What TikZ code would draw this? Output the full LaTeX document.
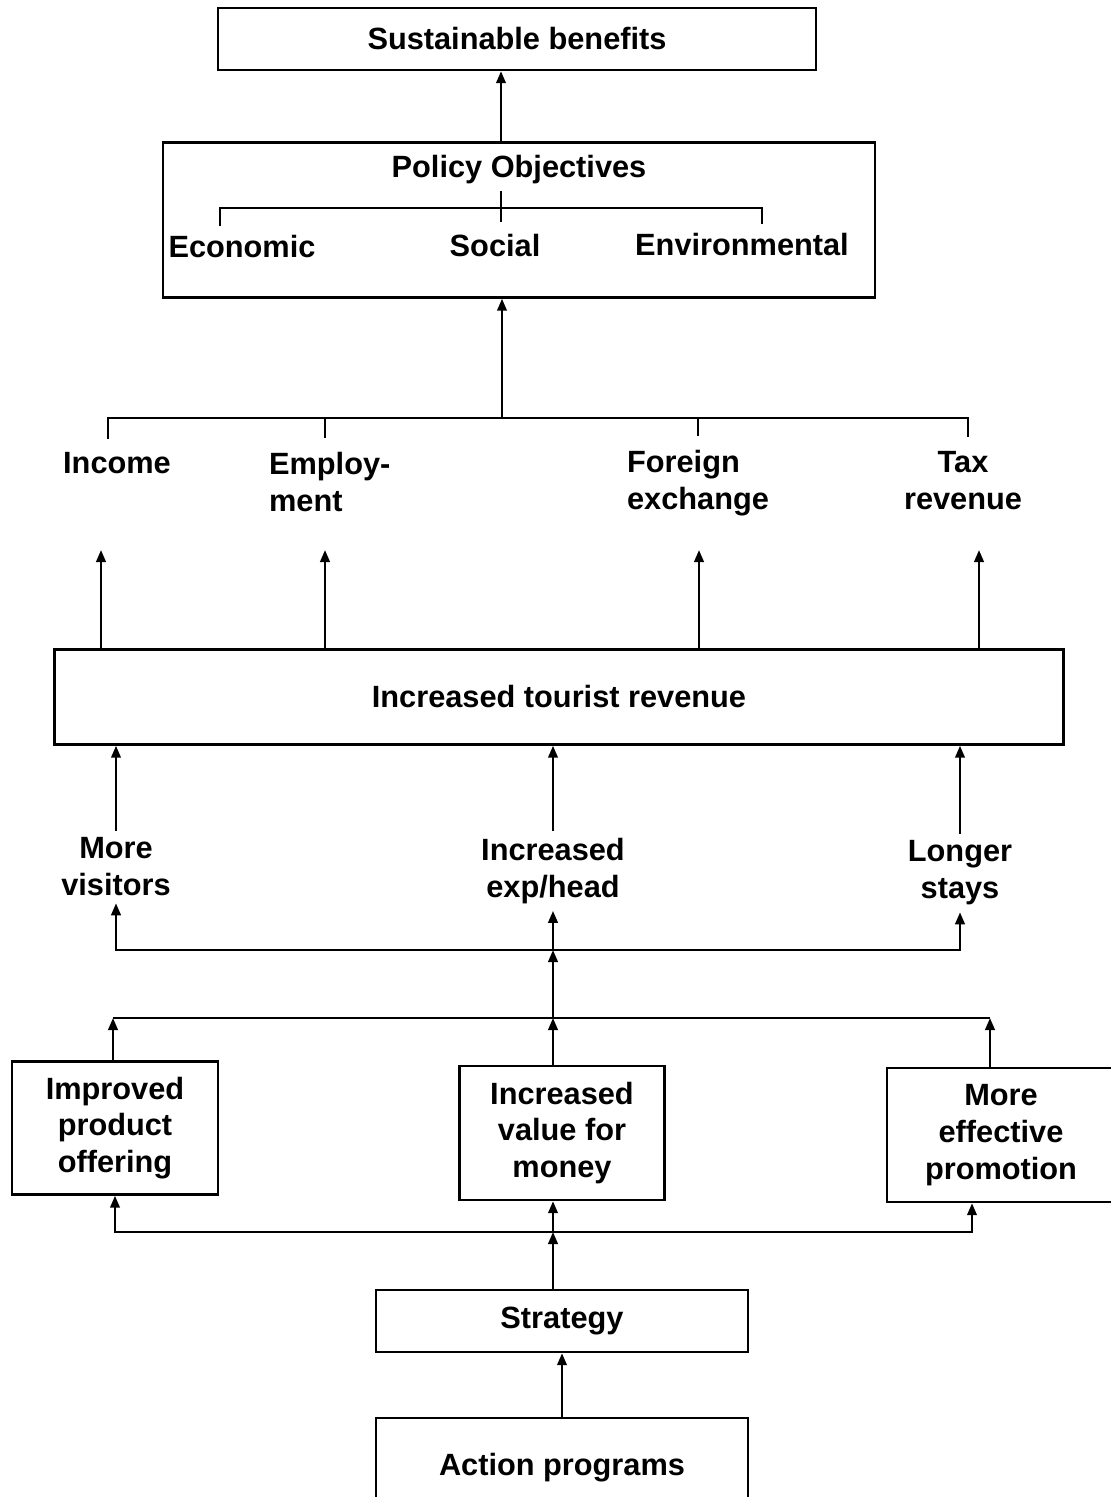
\documentclass[tikz,border=0pt]{standalone}
\usepackage{fontspec}
\setmainfont{Liberation Sans}
\usetikzlibrary{positioning, arrows.meta}

\begin{document}
\begin{tikzpicture}[x=0.02cm, y=-0.02cm, line width=1.4pt,
  >={Triangle[length=2.4mm, width=1.9mm]},
  font=\fontsize{17.5}{21}\selectfont\bfseries,
  box/.style={draw, rectangle},
  lbl/.style={align=center}]
  \useasboundingbox (0,0) rectangle (1111,1497);
  \clip (0,0) rectangle (1111,1497);

  \node[box, minimum width=11.96cm, minimum height=1.24cm] (sust) at (517,39) {Sustainable benefits};
  \node[box, minimum width=14.24cm, minimum height=3.1cm] (pol) at (519,220) {};
  \node (title) at (519,170) {Policy Objectives};
  \node (eco) at (242,247) {Economic};
  \node (soc) at (495,246) {Social};
  \node (env) at (742,245) {Environmental};

  \node (inc) at (117,463) {Income};
  \node[align=left, anchor=west] (emp) at (262,482) {Employ-\\ment};
  \node[align=left, anchor=west] (fx) at (620,483) {Foreign\\exchange};
  \node[lbl] (tax) at (963,481) {Tax\\revenue};

  \node[box, minimum width=20.18cm, minimum height=1.9cm] (rev) at (559,697) {Increased tourist revenue};

  \node[lbl] (vis) at (116,867) {More\\visitors};
  \node[lbl] (exp) at (553,871) {Increased\\exp/head};
  \node[lbl] (stay) at (960,873) {Longer\\stays};

  \node[box, lbl, minimum width=4.12cm, minimum height=2.66cm] (imp) at (115,1128) {Improved\\product\\offering};
  \node[box, lbl, minimum width=4.1cm, minimum height=2.68cm] (val) at (562,1133) {Increased\\value for\\money};
  \node[box, lbl, minimum width=4.56cm, minimum height=2.68cm] (pro) at (1001,1135) {More\\effective\\promotion};
  \node[box, minimum width=7.44cm, minimum height=1.24cm] (strat) at (562,1321) {Strategy};
  \node[box, minimum width=7.44cm, minimum height=2.0cm] (act) at (562,1468) {Action programs};

  \coordinate (pm) at (501,222);
  \coordinate (ptop) at (501,208);
  \coordinate (pl) at (220,226);
  \coordinate (pr) at (762,224);
  \draw (pl) |- (ptop) -| (pr);
  \draw (title.south -| pm) -- (pm);
  \draw[->] (pm |- pol.north) -- (pm |- sust.south);

  \coordinate (oj) at (502,418);
  \coordinate (o1) at (108,439);
  \coordinate (o2) at (325,438);
  \coordinate (o3) at (698,436);
  \coordinate (o4) at (968,437);
  \draw (o1) |- (oj) -| (o4);
  \draw (o2) -- (o2 |- oj);
  \draw (o3) -- (o3 |- oj);
  \draw[->] (oj) -- (oj |- pol.south);

  \foreach \x [count=\i] in {101,325,699,979} {
    \coordinate (up\i) at (\x,550);
    \draw[->] (up\i |- rev.north) -- (up\i);
  }

  \foreach \n in {vis,exp,stay}
    \draw[->] (\n.north) -- (\n.north |- rev.south);

  \coordinate (mj) at (553,950);
  \draw[->] (mj) -| (vis.south);
  \draw[->] (mj) -| (stay.south);
  \draw[->] (mj) -- (exp.south);

  \coordinate (lj) at (553,1018);
  \coordinate (ll) at (113,1018);
  \coordinate (lr) at (990,1018);
  \draw (ll) -- (lr);
  \draw[->] (ll |- imp.north) -- (ll);
  \draw[->] (lr |- pro.north) -- (lr);
  \draw[->] (lj |- val.north) -- (lj);
  \draw[->] (lj) -- (mj);

  \coordinate (sj) at (553,1232);
  \coordinate (sr) at (972,1232);
  \draw[->] (sj) -| (imp.south);
  \draw[->] (sj) -- (sr) -- (sr |- pro.south);
  \draw[->] (sj) -- (sj |- val.south);
  \draw[->] (strat.north -| sj) -- (sj);
  \draw[->] (act) -- (strat);
\end{tikzpicture}
\end{document}
